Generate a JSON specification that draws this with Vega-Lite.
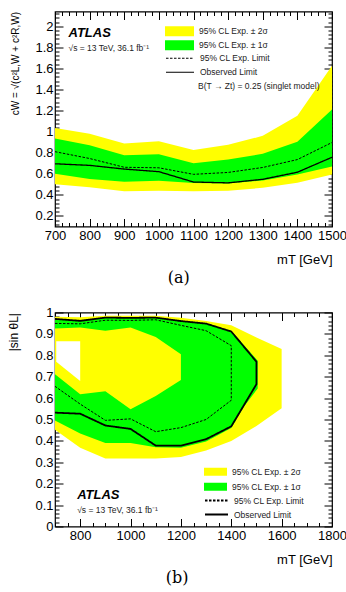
{
  "$schema": "https://vega.github.io/schema/vega-lite/v6.json",
  "background": "white",
  "padding": {"left": 7, "top": 6.5, "right": 0, "bottom": 0},
  "spacing": 19,
  "config": {
    "font": "Liberation Sans",
    "view": {"stroke": "black", "strokeWidth": 1.2},
    "axis": {
      "domain": false, "grid": false,
      "labelFont": "Liberation Sans", "labelFontSize": 13, "labelColor": "black",
      "titleFont": "Liberation Sans", "titleFontWeight": "normal", "titleColor": "black", "titleFontSize": 13,
      "tickColor": "black", "tickWidth": 1, "labelOverlap": false, "labelFlush": false
    },
    "legend": {"labelFont": "Liberation Sans", "labelFontSize": 8.5, "labelColor": "#222", "padding": 0, "rowPadding": 0, "titlePadding": 0}
  },
  "datasets": {
    "bandsA": [
      {"m": 700, "lo2": 0.50, "lo1": 0.60, "exp": 0.81, "obs": 0.695, "hi1": 0.935, "hi2": 1.035},
      {"m": 800, "lo2": 0.473, "lo1": 0.55, "exp": 0.745, "obs": 0.68, "hi1": 0.87, "hi2": 0.98},
      {"m": 900, "lo2": 0.435, "lo1": 0.524, "exp": 0.662, "obs": 0.645, "hi1": 0.775, "hi2": 0.888},
      {"m": 1000, "lo2": 0.44, "lo1": 0.535, "exp": 0.657, "obs": 0.62, "hi1": 0.785, "hi2": 0.91},
      {"m": 1100, "lo2": 0.435, "lo1": 0.512, "exp": 0.595, "obs": 0.522, "hi1": 0.70, "hi2": 0.825},
      {"m": 1200, "lo2": 0.44, "lo1": 0.508, "exp": 0.613, "obs": 0.514, "hi1": 0.735, "hi2": 0.875},
      {"m": 1300, "lo2": 0.467, "lo1": 0.537, "exp": 0.66, "obs": 0.548, "hi1": 0.79, "hi2": 0.96},
      {"m": 1400, "lo2": 0.514, "lo1": 0.594, "exp": 0.735, "obs": 0.615, "hi1": 0.905, "hi2": 1.15},
      {"m": 1500, "lo2": 0.594, "lo1": 0.67, "exp": 0.897, "obs": 0.757, "hi1": 1.21, "hi2": 1.625}
    ],
    "contB": [
      {"shape": "outer2", "i": 0, "m": 700, "s": 0.98},
      {"shape": "outer2", "i": 1, "m": 800, "s": 0.978},
      {"shape": "outer2", "i": 2, "m": 900, "s": 0.985},
      {"shape": "outer2", "i": 3, "m": 1000, "s": 0.985},
      {"shape": "outer2", "i": 4, "m": 1100, "s": 0.985},
      {"shape": "outer2", "i": 5, "m": 1200, "s": 0.975},
      {"shape": "outer2", "i": 6, "m": 1300, "s": 0.96},
      {"shape": "outer2", "i": 7, "m": 1400, "s": 0.94},
      {"shape": "outer2", "i": 8, "m": 1500, "s": 0.883},
      {"shape": "outer2", "i": 9, "m": 1600, "s": 0.83},
      {"shape": "outer2", "i": 10, "m": 1600, "s": 0.553},
      {"shape": "outer2", "i": 11, "m": 1500, "s": 0.47},
      {"shape": "outer2", "i": 12, "m": 1400, "s": 0.4},
      {"shape": "outer2", "i": 13, "m": 1300, "s": 0.355},
      {"shape": "outer2", "i": 14, "m": 1200, "s": 0.325},
      {"shape": "outer2", "i": 15, "m": 1100, "s": 0.318},
      {"shape": "outer2", "i": 16, "m": 1000, "s": 0.318},
      {"shape": "outer2", "i": 17, "m": 900, "s": 0.318},
      {"shape": "outer2", "i": 18, "m": 800, "s": 0.368},
      {"shape": "outer2", "i": 19, "m": 700, "s": 0.452},
      {"shape": "outer1", "i": 0, "m": 700, "s": 0.97},
      {"shape": "outer1", "i": 1, "m": 800, "s": 0.963},
      {"shape": "outer1", "i": 2, "m": 900, "s": 0.977},
      {"shape": "outer1", "i": 3, "m": 1000, "s": 0.975},
      {"shape": "outer1", "i": 4, "m": 1100, "s": 0.978},
      {"shape": "outer1", "i": 5, "m": 1200, "s": 0.962},
      {"shape": "outer1", "i": 6, "m": 1300, "s": 0.95},
      {"shape": "outer1", "i": 7, "m": 1400, "s": 0.915},
      {"shape": "outer1", "i": 8, "m": 1505, "s": 0.775},
      {"shape": "outer1", "i": 9, "m": 1505, "s": 0.645},
      {"shape": "outer1", "i": 10, "m": 1450, "s": 0.56},
      {"shape": "outer1", "i": 11, "m": 1400, "s": 0.46},
      {"shape": "outer1", "i": 12, "m": 1300, "s": 0.397},
      {"shape": "outer1", "i": 13, "m": 1200, "s": 0.368},
      {"shape": "outer1", "i": 14, "m": 1100, "s": 0.37},
      {"shape": "outer1", "i": 15, "m": 1000, "s": 0.39},
      {"shape": "outer1", "i": 16, "m": 900, "s": 0.39},
      {"shape": "outer1", "i": 17, "m": 800, "s": 0.435},
      {"shape": "outer1", "i": 18, "m": 700, "s": 0.495},
      {"shape": "inner2", "i": 0, "m": 700, "s": 0.925},
      {"shape": "inner2", "i": 1, "m": 800, "s": 0.93},
      {"shape": "inner2", "i": 2, "m": 900, "s": 0.915},
      {"shape": "inner2", "i": 3, "m": 1000, "s": 0.93},
      {"shape": "inner2", "i": 4, "m": 1100, "s": 0.885},
      {"shape": "inner2", "i": 5, "m": 1200, "s": 0.805},
      {"shape": "inner2", "i": 6, "m": 1200, "s": 0.685},
      {"shape": "inner2", "i": 7, "m": 1100, "s": 0.61},
      {"shape": "inner2", "i": 8, "m": 1000, "s": 0.548},
      {"shape": "inner2", "i": 9, "m": 900, "s": 0.632},
      {"shape": "inner2", "i": 10, "m": 800, "s": 0.618},
      {"shape": "inner2", "i": 11, "m": 700, "s": 0.712},
      {"shape": "hole", "i": 0, "m": 705, "s": 0.866},
      {"shape": "hole", "i": 1, "m": 800, "s": 0.866},
      {"shape": "hole", "i": 2, "m": 800, "s": 0.68},
      {"shape": "hole", "i": 3, "m": 705, "s": 0.77},
      {"shape": "exp", "i": 0, "m": 700, "s": 0.949},
      {"shape": "exp", "i": 1, "m": 800, "s": 0.947},
      {"shape": "exp", "i": 2, "m": 900, "s": 0.964},
      {"shape": "exp", "i": 3, "m": 1000, "s": 0.963},
      {"shape": "exp", "i": 4, "m": 1100, "s": 0.966},
      {"shape": "exp", "i": 5, "m": 1200, "s": 0.94},
      {"shape": "exp", "i": 6, "m": 1300, "s": 0.915},
      {"shape": "exp", "i": 7, "m": 1400, "s": 0.845},
      {"shape": "exp", "i": 8, "m": 1400, "s": 0.59},
      {"shape": "exp", "i": 9, "m": 1300, "s": 0.5},
      {"shape": "exp", "i": 10, "m": 1200, "s": 0.462},
      {"shape": "exp", "i": 11, "m": 1100, "s": 0.443},
      {"shape": "exp", "i": 12, "m": 1000, "s": 0.503},
      {"shape": "exp", "i": 13, "m": 900, "s": 0.496},
      {"shape": "exp", "i": 14, "m": 800, "s": 0.572},
      {"shape": "exp", "i": 15, "m": 700, "s": 0.655},
      {"shape": "obs", "i": 0, "m": 700, "s": 0.97},
      {"shape": "obs", "i": 1, "m": 800, "s": 0.961},
      {"shape": "obs", "i": 2, "m": 900, "s": 0.976},
      {"shape": "obs", "i": 3, "m": 1000, "s": 0.975},
      {"shape": "obs", "i": 4, "m": 1100, "s": 0.976},
      {"shape": "obs", "i": 5, "m": 1200, "s": 0.96},
      {"shape": "obs", "i": 6, "m": 1300, "s": 0.948},
      {"shape": "obs", "i": 7, "m": 1400, "s": 0.911},
      {"shape": "obs", "i": 8, "m": 1500, "s": 0.77},
      {"shape": "obs", "i": 9, "m": 1500, "s": 0.665},
      {"shape": "obs", "i": 10, "m": 1400, "s": 0.468},
      {"shape": "obs", "i": 11, "m": 1300, "s": 0.408},
      {"shape": "obs", "i": 12, "m": 1200, "s": 0.378},
      {"shape": "obs", "i": 13, "m": 1100, "s": 0.378},
      {"shape": "obs", "i": 14, "m": 1000, "s": 0.456},
      {"shape": "obs", "i": 15, "m": 900, "s": 0.472},
      {"shape": "obs", "i": 16, "m": 800, "s": 0.527},
      {"shape": "obs", "i": 17, "m": 700, "s": 0.532}
    ]
  },
  "resolve": {
    "scale": {"color": "independent", "strokeDash": "independent"},
    "legend": {"color": "independent", "strokeDash": "independent"}
  },
  "vconcat": [
    {
      "width": 277,
      "height": 215,
      "title": {"text": "(a)", "orient": "bottom", "anchor": "middle", "frame": "bounds", "font": "DejaVu Serif", "fontSize": 16, "fontWeight": "normal", "color": "black", "offset": 3},
      "data": {"name": "bandsA"},
      "resolve": {"axis": {"x": "independent", "y": "independent"}},
      "layer": [
        {
          "mark": {"type": "area", "strokeWidth": 0},
          "encoding": {
            "x": {
              "field": "m", "type": "quantitative",
              "scale": {"domain": [700, 1500], "nice": false, "zero": false},
              "axis": {
                "orient": "bottom", "title": "mT [GeV]", "titleAnchor": "end", "titlePadding": 7.5,
                "format": "d", "labelPadding": 10.5,
                "values": [700,720,740,760,780,800,820,840,860,880,900,920,940,960,980,1000,1020,1040,1060,1080,1100,1120,1140,1160,1180,1200,1220,1240,1260,1280,1300,1320,1340,1360,1380,1400,1420,1440,1460,1480,1500],
                "tickSize": {"condition": {"test": "datum.value % 100 === 0", "value": -8}, "value": -4},
                "labelExpr": "datum.value % 100 === 0 ? datum.label : ''"
              }
            },
            "y": {
              "field": "hi2", "type": "quantitative",
              "scale": {"domain": [0.1, 2.14], "nice": false, "zero": false},
              "axis": {
                "orient": "left", "title": "cW = √(c²L,W + c²R,W)", "titleFontSize": 10, "titleAnchor": "end", "titlePadding": 14,
                "format": "~g", "labelPadding": 10,
                "values": [0.12,0.16,0.2,0.24,0.28,0.32,0.36,0.4,0.44,0.48,0.52,0.56,0.6,0.64,0.68,0.72,0.76,0.8,0.84,0.88,0.92,0.96,1,1.04,1.08,1.12,1.16,1.2,1.24,1.28,1.32,1.36,1.4,1.44,1.48,1.52,1.56,1.6,1.64,1.68,1.72,1.76,1.8,1.84,1.88,1.92,1.96,2,2.04,2.08,2.12],
                "tickSize": {"condition": {"test": "abs(datum.value*5 - round(datum.value*5)) < 0.001", "value": -8}, "value": -4},
                "labelExpr": "abs(datum.value*5 - round(datum.value*5)) < 0.001 ? datum.label : ''"
              }
            },
            "y2": {"field": "lo2"},
            "color": {
              "datum": "95% CL Exp. ± 2σ", "type": "nominal",
              "scale": {"domain": ["95% CL Exp. ± 2σ", "95% CL Exp. ± 1σ"], "range": ["#ffff00", "#00ff00"]},
              "legend": {"orient": "none", "legendX": 110, "legendY": 13, "title": null, "symbolType": "M-1,-0.345H1V0.345H-1Z", "symbolSize": 841, "symbolStrokeWidth": 0, "symbolOpacity": 1, "labelOffset": 5, "clipHeight": 13.5}
            }
          }
        },
        {
          "mark": {"type": "area", "strokeWidth": 0},
          "encoding": {
            "x": {
              "field": "m", "type": "quantitative",
              "axis": {
                "orient": "top", "title": null, "labels": false,
                "values": [700,720,740,760,780,800,820,840,860,880,900,920,940,960,980,1000,1020,1040,1060,1080,1100,1120,1140,1160,1180,1200,1220,1240,1260,1280,1300,1320,1340,1360,1380,1400,1420,1440,1460,1480,1500],
                "tickSize": {"condition": {"test": "datum.value % 100 === 0", "value": -8}, "value": -4}
              }
            },
            "y": {
              "field": "hi1", "type": "quantitative",
              "axis": {
                "orient": "right", "title": null, "labels": false,
                "values": [0.12,0.16,0.2,0.24,0.28,0.32,0.36,0.4,0.44,0.48,0.52,0.56,0.6,0.64,0.68,0.72,0.76,0.8,0.84,0.88,0.92,0.96,1,1.04,1.08,1.12,1.16,1.2,1.24,1.28,1.32,1.36,1.4,1.44,1.48,1.52,1.56,1.6,1.64,1.68,1.72,1.76,1.8,1.84,1.88,1.92,1.96,2,2.04,2.08,2.12],
                "tickSize": {"condition": {"test": "abs(datum.value*5 - round(datum.value*5)) < 0.001", "value": -8}, "value": -4}
              }
            },
            "y2": {"field": "lo1"},
            "color": {"datum": "95% CL Exp. ± 1σ", "type": "nominal"}
          }
        },
        {
          "mark": {"type": "line", "color": "black", "strokeWidth": 1},
          "encoding": {
            "x": {"field": "m", "type": "quantitative", "axis": null},
            "y": {"field": "exp", "type": "quantitative", "axis": null},
            "strokeDash": {
              "datum": "95% CL Exp. Limit", "type": "nominal",
              "scale": {"domain": ["95% CL Exp. Limit", "Observed Limit"], "range": [[2.5, 1.5], [1, 0]]},
              "legend": {"orient": "none", "legendX": 110, "legendY": 40, "title": null, "symbolType": "stroke", "symbolSize": 784, "symbolStrokeWidth": 1.2, "symbolStrokeColor": "black", "labelOffset": 5, "clipHeight": 13.5}
            }
          }
        },
        {
          "mark": {"type": "line", "color": "black", "strokeWidth": 1.3},
          "encoding": {
            "x": {"field": "m", "type": "quantitative", "axis": null},
            "y": {"field": "obs", "type": "quantitative", "axis": null},
            "strokeDash": {"datum": "Observed Limit", "type": "nominal"}
          }
        },
        {
          "data": {"values": [{"t": "ATLAS"}]},
          "mark": {"type": "text", "align": "left", "baseline": "middle", "fontSize": 13, "fontWeight": "bold", "fontStyle": "italic", "color": "black"},
          "encoding": {
            "x": {"datum": 739, "type": "quantitative", "axis": null},
            "y": {"datum": 1.94, "type": "quantitative", "axis": null},
            "text": {"field": "t"}
          }
        },
        {
          "data": {"values": [{"t": "√s = 13 TeV, 36.1 fb⁻¹"}]},
          "mark": {"type": "text", "align": "left", "baseline": "middle", "fontSize": 8.5, "color": "#222"},
          "encoding": {
            "x": {"datum": 739, "type": "quantitative", "axis": null},
            "y": {"datum": 1.797, "type": "quantitative", "axis": null},
            "text": {"field": "t"}
          }
        },
        {
          "data": {"values": [{"t": "B(T → Zt) = 0.25 (singlet model)"}]},
          "mark": {"type": "text", "align": "left", "baseline": "middle", "fontSize": 8.5, "color": "#222"},
          "encoding": {
            "x": {"datum": 1113, "type": "quantitative", "axis": null},
            "y": {"datum": 1.435, "type": "quantitative", "axis": null},
            "text": {"field": "t"}
          }
        }
      ]
    },
    {
      "width": 277,
      "height": 214,
      "title": {"text": "(b)", "orient": "bottom", "anchor": "middle", "frame": "bounds", "font": "DejaVu Serif", "fontSize": 16, "fontWeight": "normal", "color": "black", "offset": 3},
      "data": {"name": "contB"},
      "resolve": {"axis": {"x": "independent", "y": "independent"}},
      "layer": [
        {
          "transform": [{"filter": "datum.shape === 'outer2'"}],
          "mark": {"type": "line", "interpolate": "linear-closed", "filled": true, "strokeWidth": 0},
          "encoding": {
            "x": {
              "field": "m", "type": "quantitative",
              "scale": {"domain": [700, 1800], "nice": false, "zero": false},
              "axis": {
                "orient": "bottom", "title": "mT [GeV]", "titleAnchor": "end", "titlePadding": 7.5,
                "format": "d", "labelPadding": 10.5,
                "values": [700,750,800,850,900,950,1000,1050,1100,1150,1200,1250,1300,1350,1400,1450,1500,1550,1600,1650,1700,1750,1800],
                "tickSize": {"condition": {"test": "datum.value % 200 === 0", "value": -8}, "value": -4},
                "labelExpr": "datum.value % 200 === 0 ? datum.label : ''"
              }
            },
            "y": {
              "field": "s", "type": "quantitative",
              "scale": {"domain": [0, 1], "nice": false, "zero": false},
              "axis": {
                "orient": "left", "title": "|sin θL|", "titleFontSize": 12, "titleAnchor": "end", "titlePadding": 14,
                "format": "~g", "labelPadding": 10,
                "values": [0,0.02,0.04,0.06,0.08,0.1,0.12,0.14,0.16,0.18,0.2,0.22,0.24,0.26,0.28,0.3,0.32,0.34,0.36,0.38,0.4,0.42,0.44,0.46,0.48,0.5,0.52,0.54,0.56,0.58,0.6,0.62,0.64,0.66,0.68,0.7,0.72,0.74,0.76,0.78,0.8,0.82,0.84,0.86,0.88,0.9,0.92,0.94,0.96,0.98,1],
                "tickSize": {"condition": {"test": "abs(datum.value*10 - round(datum.value*10)) < 0.001", "value": -8}, "value": -4},
                "labelExpr": "abs(datum.value*10 - round(datum.value*10)) < 0.001 ? datum.label : ''"
              }
            },
            "order": {"field": "i", "type": "quantitative"},
            "color": {
              "datum": "95% CL Exp. ± 2σ", "type": "nominal",
              "scale": {"domain": ["95% CL Exp. ± 2σ", "95% CL Exp. ± 1σ"], "range": ["#ffff00", "#00ff00"]},
              "legend": {"orient": "none", "legendX": 149, "legendY": 152, "title": null, "symbolType": "M-1,-0.35H1V0.35H-1Z", "symbolSize": 529, "symbolStrokeWidth": 0, "symbolOpacity": 1, "labelOffset": 5, "clipHeight": 14.5}
            }
          }
        },
        {
          "transform": [{"filter": "datum.shape === 'outer1'"}],
          "mark": {"type": "line", "interpolate": "linear-closed", "filled": true, "strokeWidth": 0},
          "encoding": {
            "x": {
              "field": "m", "type": "quantitative",
              "axis": {
                "orient": "top", "title": null, "labels": false,
                "values": [700,750,800,850,900,950,1000,1050,1100,1150,1200,1250,1300,1350,1400,1450,1500,1550,1600,1650,1700,1750,1800],
                "tickSize": {"condition": {"test": "datum.value % 200 === 0", "value": -8}, "value": -4}
              }
            },
            "y": {
              "field": "s", "type": "quantitative",
              "axis": {
                "orient": "right", "title": null, "labels": false,
                "values": [0,0.02,0.04,0.06,0.08,0.1,0.12,0.14,0.16,0.18,0.2,0.22,0.24,0.26,0.28,0.3,0.32,0.34,0.36,0.38,0.4,0.42,0.44,0.46,0.48,0.5,0.52,0.54,0.56,0.58,0.6,0.62,0.64,0.66,0.68,0.7,0.72,0.74,0.76,0.78,0.8,0.82,0.84,0.86,0.88,0.9,0.92,0.94,0.96,0.98,1],
                "tickSize": {"condition": {"test": "abs(datum.value*10 - round(datum.value*10)) < 0.001", "value": -8}, "value": -4}
              }
            },
            "order": {"field": "i", "type": "quantitative"},
            "color": {"datum": "95% CL Exp. ± 1σ", "type": "nominal"}
          }
        },
        {
          "transform": [{"filter": "datum.shape === 'inner2'"}],
          "mark": {"type": "line", "interpolate": "linear-closed", "filled": true, "strokeWidth": 0},
          "encoding": {
            "x": {"field": "m", "type": "quantitative", "axis": null},
            "y": {"field": "s", "type": "quantitative", "axis": null},
            "order": {"field": "i", "type": "quantitative"},
            "color": {"datum": "95% CL Exp. ± 2σ", "type": "nominal"}
          }
        },
        {
          "transform": [{"filter": "datum.shape === 'hole'"}],
          "mark": {"type": "line", "interpolate": "linear-closed", "fill": "white", "stroke": "white", "strokeWidth": 0},
          "encoding": {
            "x": {"field": "m", "type": "quantitative", "axis": null},
            "y": {"field": "s", "type": "quantitative", "axis": null},
            "order": {"field": "i", "type": "quantitative"}
          }
        },
        {
          "transform": [{"filter": "datum.shape === 'exp'"}],
          "mark": {"type": "line", "color": "black", "strokeWidth": 1},
          "encoding": {
            "x": {"field": "m", "type": "quantitative", "axis": null},
            "y": {"field": "s", "type": "quantitative", "axis": null},
            "order": {"field": "i", "type": "quantitative"},
            "strokeDash": {
              "datum": "95% CL Exp. Limit", "type": "nominal",
              "scale": {"domain": ["95% CL Exp. Limit", "Observed Limit"], "range": [[2.5, 1.5], [1, 0]]},
              "legend": {"orient": "none", "legendX": 149, "legendY": 181, "title": null, "symbolType": "stroke", "symbolSize": 529, "symbolStrokeWidth": 1.8, "symbolStrokeColor": "black", "labelOffset": 5, "clipHeight": 14}
            }
          }
        },
        {
          "transform": [{"filter": "datum.shape === 'obs'"}],
          "mark": {"type": "line", "color": "black", "strokeWidth": 1.8},
          "encoding": {
            "x": {"field": "m", "type": "quantitative", "axis": null},
            "y": {"field": "s", "type": "quantitative", "axis": null},
            "order": {"field": "i", "type": "quantitative"},
            "strokeDash": {"datum": "Observed Limit", "type": "nominal"}
          }
        },
        {
          "data": {"values": [{"t": "ATLAS"}]},
          "mark": {"type": "text", "align": "left", "baseline": "middle", "fontSize": 13, "fontWeight": "bold", "fontStyle": "italic", "color": "black"},
          "encoding": {
            "x": {"datum": 788, "type": "quantitative", "axis": null},
            "y": {"datum": 0.145, "type": "quantitative", "axis": null},
            "text": {"field": "t"}
          }
        },
        {
          "data": {"values": [{"t": "√s = 13 TeV, 36.1 fb⁻¹"}]},
          "mark": {"type": "text", "align": "left", "baseline": "middle", "fontSize": 8.5, "color": "#222"},
          "encoding": {
            "x": {"datum": 788, "type": "quantitative", "axis": null},
            "y": {"datum": 0.079, "type": "quantitative", "axis": null},
            "text": {"field": "t"}
          }
        }
      ]
    }
  ]
}
